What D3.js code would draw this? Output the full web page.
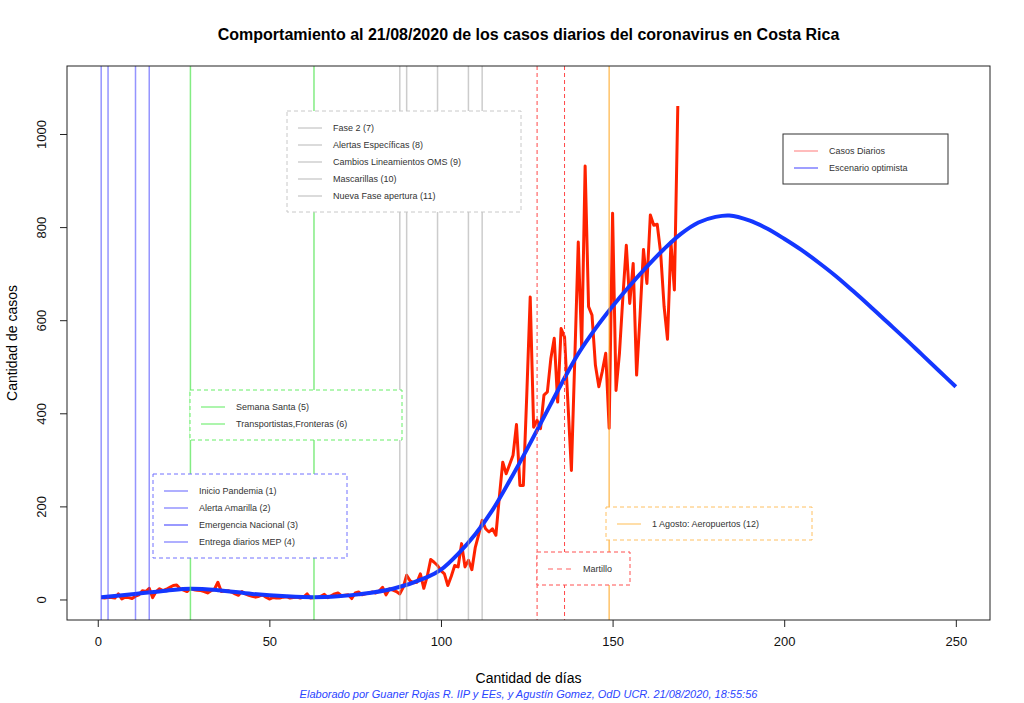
<!DOCTYPE html>
<html lang="es">
<head>
    <meta charset="UTF-8">
    <script src="https://d3js.org/d3.v7.min.js"></script>
    <title>Casos diarios coronavirus Costa Rica</title>
    <style>
        body { margin: 0; background: #fff; }
        svg { display: block; font-family: "Liberation Sans", Arial, Helvetica, sans-serif; }
    </style>
</head>
<body>
<script>
    // Casos diarios, día 1 (06/03/2020) al día 169 (21/08/2020)
    var casosDiarios = [
        4, 3, 4, 4, 3, 12, 1, 5, 4, 2,
        7, 10, 19, 17, 24, 4, 17, 23, 19, 22,
        26, 30, 31, 23, 20, 17, 24, 21, 20, 19,
        17, 14, 19, 22, 37, 17, 18, 19, 16, 12,
        9, 17, 12, 9, 7, 5, 7, 10, 5, 1,
        4, 3, 3, 5, 6, 3, 4, 5, 3, 5,
        12, 3, 4, 4, 7, 11, 4, 8, 12, 14,
        8, 9, 10, 2, 14, 16, 10, 12, 14, 16,
        14, 18, 26, 10, 23, 20, 17, 12, 26, 52,
        40, 36, 37, 55, 24, 50, 86, 80, 73, 62,
        55, 30, 50, 73, 70, 120, 70, 84, 64, 112,
        140, 170, 152, 145, 152, 138, 220, 295, 270, 290,
        310, 376, 245, 245, 440, 650, 370, 385, 367, 439,
        446, 517, 561, 424, 582, 564, 420, 277, 520, 768,
        540, 931, 629, 611, 503, 457, 490, 529, 368, 830,
        449, 529, 650, 761, 636, 722, 482, 610, 752, 679,
        826, 804, 806, 745, 630, 559, 768, 665, 1060
    ];

    // Escenario optimista (curva ajustada)
    var diasModelo = [1, 10, 20, 27, 35, 45, 55, 63, 70, 76, 86, 96, 100, 105, 110, 115, 120, 125, 130, 135,
        140, 145, 150, 155, 160, 165, 170, 175, 180, 184, 190, 195, 200, 205, 210, 215,
        220, 225, 230, 235, 240, 245, 250];
    var casosModelo = [5, 11, 19, 23, 20, 12, 7, 5, 7, 11, 23, 48, 64, 98, 140, 192, 255, 322, 392, 462,
        528, 582, 630, 674, 715, 753, 786, 810, 822, 825, 814, 797, 775, 751, 724, 695,
        663, 630, 596, 562, 527, 492, 457];

    // Días de los eventos
    var diasAzul = [1, 3, 11, 15];
    var diasVerde = [27, 63];
    var diasGris = [88, 90, 99, 108, 112];
    var diasMartillo = [128, 136];
    var diasAeropuertos = [149];

    var etiquetasAzul = ["Inicio Pandemia (1)", "Alerta Amarilla (2)", "Emergencia Nacional (3)", "Entrega diarios MEP (4)"];
    var etiquetasVerde = ["Semana Santa (5)", "Transportistas,Fronteras (6)"];
    var etiquetasGris = ["Fase 2 (7)", "Alertas Específicas (8)", "Cambios Lineamientos OMS (9)", "Mascarillas (10)", "Nueva Fase apertura (11)"];
    var etiquetasMartillo = ["Martillo"];
    var etiquetasAeropuertos = ["1 Agosto: Aeropuertos (12)"];
    var etiquetasSeries = ["Casos Diarios", "Escenario optimista"];

    var ticksX = [0, 50, 100, 150, 200, 250];
    var ticksY = [0, 200, 400, 600, 800, 1000];

    var width = 1024,
        height = 703;
    // ojo: "top" es reservado en window
    var pLeft = 67, pRight = 990, pTop = 66, pBottom = 620;

    var svg = d3.select("body").append("svg")
        .attr("width", width)
        .attr("height", height);

    // Dominios como R (rango de datos + 4%)
    var x = d3.scaleLinear().domain([-8.96, 259.96]).range([pLeft, pRight]);
    var y = d3.scaleLinear().domain([-44.08, 1146.08]).range([pBottom, pTop]);

    var rojo = "#ff2200",
        azul = "#1437ff";

    // Líneas verticales de eventos
    function verticales(dias, color, dash, ancho) {
        svg.append("g").selectAll("line")
            .data(dias)
            .join("line")
            .attr("x1", function (d) { return x(d); })
            .attr("x2", function (d) { return x(d); })
            .attr("y1", pTop)
            .attr("y2", pBottom)
            .attr("stroke", color)
            .attr("stroke-width", ancho)
            .attr("stroke-dasharray", dash);
    }

    // Curvas
    var linea = d3.line()
        .x(function (d) { return x(d[0]); })
        .y(function (d) { return y(d[1]); });

    svg.append("path")
        .datum(casosDiarios.map(function (v, i) { return [i + 1, v]; }))
        .attr("fill", "none")
        .attr("stroke", rojo)
        .attr("stroke-width", 3)
        .attr("stroke-linejoin", "round")
        .attr("d", linea);

    svg.append("path")
        .datum(diasModelo.map(function (d, i) { return [d, casosModelo[i]]; }))
        .attr("fill", "none")
        .attr("stroke", azul)
        .attr("stroke-width", 4)
        .attr("d", d3.line()
            .x(function (d) { return x(d[0]); })
            .y(function (d) { return y(d[1]); })
            .curve(d3.curveCatmullRom.alpha(0.5)));

    verticales(diasAzul, "rgba(60,60,255,0.55)", null, 1.5);
    verticales(diasVerde, "rgba(90,230,90,0.75)", null, 1.5);
    verticales(diasGris, "rgba(170,170,170,0.6)", null, 1.5);
    verticales(diasMartillo, "#ff4848", "4,3", 1);
    verticales(diasAeropuertos, "rgba(255,170,40,0.7)", null, 1.5);

    // Caja del gráfico
    svg.append("rect")
        .attr("x", pLeft).attr("y", pTop)
        .attr("width", pRight - pLeft).attr("height", pBottom - pTop)
        .attr("fill", "none")
        .attr("stroke", "#222")
        .attr("stroke-width", 1);

    // Leyendas
    function leyenda(bx, by, bw, etiquetas, colores, borde, dashBorde, dashLinea) {
        var g = svg.append("g");
        g.append("rect")
            .attr("x", bx).attr("y", by)
            .attr("width", bw).attr("height", etiquetas.length * 17 + 16)
            .attr("fill", "#fff")
            .attr("stroke", borde)
            .attr("stroke-width", 1)
            .attr("stroke-dasharray", dashBorde);
        etiquetas.forEach(function (t, i) {
            var yy = by + 17 + i * 17;
            g.append("line")
                .attr("x1", bx + 11).attr("x2", bx + 35)
                .attr("y1", yy).attr("y2", yy)
                .attr("stroke", colores[i])
                .attr("stroke-width", 1.2)
                .attr("stroke-dasharray", dashLinea);
            g.append("text")
                .attr("x", bx + 46).attr("y", yy)
                .attr("dy", "0.35em")
                .attr("font-size", 9)
                .attr("fill", "#333")
                .text(t);
        });
    }

    leyenda(287, 111, 234, etiquetasGris, d3.range(5).map(function () { return "#c4c4c4"; }), "#c8c8c8", "4,3", null);
    leyenda(190, 390, 212, etiquetasVerde, ["#77ee77", "#77ee77"], "#66ee66", "4,3", null);
    leyenda(153, 474, 194, etiquetasAzul, ["#7a7aff", "#7a7aff", "#5555ff", "#7a7aff"], "#7070ff", "4,3", null);
    leyenda(606, 507, 206, etiquetasAeropuertos, ["#ffc870"], "#ffc060", "4,3", null);
    leyenda(537, 552, 93, etiquetasMartillo, ["#ff6060"], "#ff5050", "4,3", "5,4");
    leyenda(783, 134, 165, etiquetasSeries, ["#ff9090", "#6060ff"], "#333", null, null);

    // Ejes
    var ejeX = svg.append("g")
        .attr("transform", "translate(0," + pBottom + ")")
        .call(d3.axisBottom(x).tickValues(ticksX).tickSize(7).tickPadding(10).tickFormat(d3.format("d")));
    ejeX.select(".domain").remove();
    ejeX.selectAll("text").attr("font-size", 13).attr("fill", "#111").attr("font-family", null);
    ejeX.selectAll("line").attr("stroke", "#222");

    var ejeY = svg.append("g")
        .attr("transform", "translate(" + pLeft + ",0)")
        .call(d3.axisLeft(y).tickValues(ticksY).tickSize(7).tickFormat(d3.format("d")));
    ejeY.select(".domain").remove();
    ejeY.selectAll("line").attr("stroke", "#222");
    ejeY.selectAll("text")
        .attr("font-size", 13)
        .attr("fill", "#111")
        .attr("font-family", null)
        .attr("text-anchor", "middle")
        .attr("x", 0).attr("dy", null)
        .attr("transform", "translate(-21,0) rotate(-90)");

    // Textos
    svg.append("text")
        .attr("x", (pLeft + pRight) / 2).attr("y", 40)
        .attr("text-anchor", "middle")
        .attr("font-size", 16)
        .attr("font-weight", "bold")
        .attr("fill", "#000")
        .text("Comportamiento al 21/08/2020 de los casos diarios del coronavirus en Costa Rica");

    svg.append("text")
        .attr("x", (pLeft + pRight) / 2).attr("y", 683)
        .attr("text-anchor", "middle")
        .attr("font-size", 14)
        .attr("fill", "#000")
        .text("Cantidad de días");

    svg.append("text")
        .attr("transform", "translate(17," + (pTop + pBottom) / 2 + ") rotate(-90)")
        .attr("text-anchor", "middle")
        .attr("font-size", 14)
        .attr("fill", "#000")
        .text("Cantidad de casos");

    svg.append("text")
        .attr("x", (pLeft + pRight) / 2).attr("y", 698)
        .attr("text-anchor", "middle")
        .attr("font-size", 11)
        .attr("font-style", "italic")
        .attr("fill", "#2b45ff")
        .text("Elaborado por Guaner Rojas R. IIP y EEs, y Agustín Gomez, OdD UCR. 21/08/2020, 18:55:56");
</script>
</body>
</html>
